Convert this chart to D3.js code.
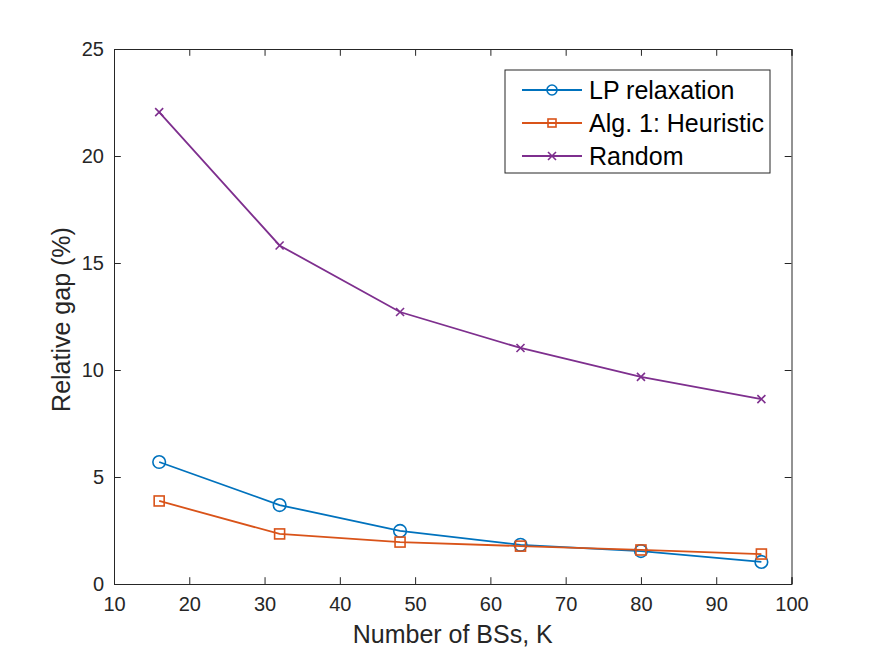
<!DOCTYPE html>
<html><head><meta charset="utf-8">
<script src="https://cdn.jsdelivr.net/npm/d3@7"></script>
<style>body{margin:0;background:#fff}svg{display:block}</style>
</head><body>
<svg id="c" width="875" height="657"></svg>
<script>
const xValues = [16, 32, 48, 64, 80, 96];
const lpRelaxation = [5.70, 3.69, 2.48, 1.83, 1.54, 1.03];
const heuristic = [3.88, 2.34, 1.96, 1.77, 1.59, 1.40];
const randomAlloc = [22.05, 15.82, 12.71, 11.03, 9.68, 8.64];
const seriesNames = ["LP relaxation", "Alg. 1: Heuristic", "Random"];
const xTicks = [10, 20, 30, 40, 50, 60, 70, 80, 90, 100];
const yTicks = [0, 5, 10, 15, 20, 25];
const xLabel = "Number of BSs, K";
const yLabel = "Relative gap (%)";

const svg = d3.select("#c");
const L = 114, R = 791.5, T = 49, B = 584;
const x = d3.scaleLinear().domain([10, 100]).range([L, R]);
const y = d3.scaleLinear().domain([0, 25]).range([B, T]);
const axisColor = "#262626";
const font = "'Liberation Sans', Arial, Helvetica, sans-serif";

svg.append("rect").attr("x", L).attr("y", T).attr("width", R - L).attr("height", B - T).attr("fill", "#fff");

// axes
const tickLen = 6.8;
const gx = svg.append("g").attr("transform", `translate(0,${B})`)
  .call(d3.axisBottom(x).tickValues(xTicks).tickSize(-tickLen).tickPadding(13).tickFormat(d3.format("d")));
const gxTop = svg.append("g").attr("transform", `translate(0,${T})`)
  .call(d3.axisTop(x).tickValues(xTicks).tickSize(-tickLen).tickFormat(""));
const gy = svg.append("g").attr("transform", `translate(${L},0)`)
  .call(d3.axisLeft(y).tickValues(yTicks).tickSize(-tickLen).tickPadding(10).tickFormat(d3.format("d")));
const gyR = svg.append("g").attr("transform", `translate(${R},0)`)
  .call(d3.axisRight(y).tickValues(yTicks).tickSize(-tickLen).tickFormat(""));
[gx, gxTop, gy, gyR].forEach(g => {
  g.selectAll("path.domain").attr("stroke", axisColor).attr("stroke-width", 1);
  g.selectAll(".tick line").attr("stroke", axisColor).attr("stroke-width", 1);
  g.selectAll(".tick text").attr("fill", axisColor).attr("font-family", font).attr("font-size", 20);
});
gx.selectAll(".tick text").attr("dy", "0.71em");

svg.append("text").attr("x", (L + R) / 2).attr("y", 643).attr("text-anchor", "middle")
  .attr("font-family", font).attr("font-size", 25).attr("fill", axisColor).text(xLabel);
svg.append("text").attr("transform", `translate(70,${(T + B) / 2 + 3}) rotate(-90)`).attr("text-anchor", "middle")
  .attr("font-family", font).attr("font-size", 25).attr("fill", axisColor).text(yLabel);

const colors = ["#0072BD", "#D95319", "#7E2F8E"];
const allData = [lpRelaxation, heuristic, randomAlloc];
const markers = ["circle", "square", "cross"];

function drawMarker(g, type, cx, cy, color) {
  if (type === "circle") {
    g.append("circle").attr("cx", cx).attr("cy", cy).attr("r", 6.3)
      .attr("fill", "none").attr("stroke", color).attr("stroke-width", 1.6);
  } else if (type === "square") {
    g.append("rect").attr("x", cx - 5).attr("y", cy - 5).attr("width", 10).attr("height", 10)
      .attr("fill", "none").attr("stroke", color).attr("stroke-width", 1.6);
  } else {
    const s = 4;
    g.append("path").attr("d", `M${cx - s},${cy - s}L${cx + s},${cy + s}M${cx - s},${cy + s}L${cx + s},${cy - s}`)
      .attr("stroke", color).attr("stroke-width", 1.6).attr("fill", "none");
  }
}

const line = d3.line().x(d => x(d[0])).y(d => y(d[1]));
allData.forEach((vals, i) => {
  const pts = xValues.map((xv, j) => [xv, vals[j]]);
  const g = svg.append("g");
  g.append("path").attr("d", line(pts)).attr("fill", "none").attr("stroke", colors[i]).attr("stroke-width", 1.8);
  pts.forEach(p => drawMarker(g, markers[i], x(p[0]), y(p[1]), colors[i]));
});

// legend
const lg = svg.append("g");
lg.append("rect").attr("x", 505).attr("y", 70).attr("width", 265).attr("height", 103)
  .attr("fill", "#fff").attr("stroke", axisColor).attr("stroke-width", 1);
seriesNames.forEach((name, i) => {
  const ly = 90 + i * 33;
  lg.append("line").attr("x1", 522).attr("x2", 582).attr("y1", ly).attr("y2", ly)
    .attr("stroke", colors[i]).attr("stroke-width", 1.8);
  const mg = lg.append("g");
  if (markers[i] === "square") {
    mg.append("rect").attr("x", 548).attr("y", ly - 4).attr("width", 8).attr("height", 8)
      .attr("fill", "none").attr("stroke", colors[i]).attr("stroke-width", 1.6);
  } else if (markers[i] === "circle") {
    mg.append("circle").attr("cx", 552).attr("cy", ly).attr("r", 5)
      .attr("fill", "none").attr("stroke", colors[i]).attr("stroke-width", 1.6);
  } else {
    drawMarker(mg, "cross", 552, ly, colors[i]);
  }
  lg.append("text").attr("x", 589).attr("y", ly).attr("dy", "0.35em")
    .attr("font-family", font).attr("font-size", 25).attr("fill", "#000").text(name);
});
</script>
</body></html>
